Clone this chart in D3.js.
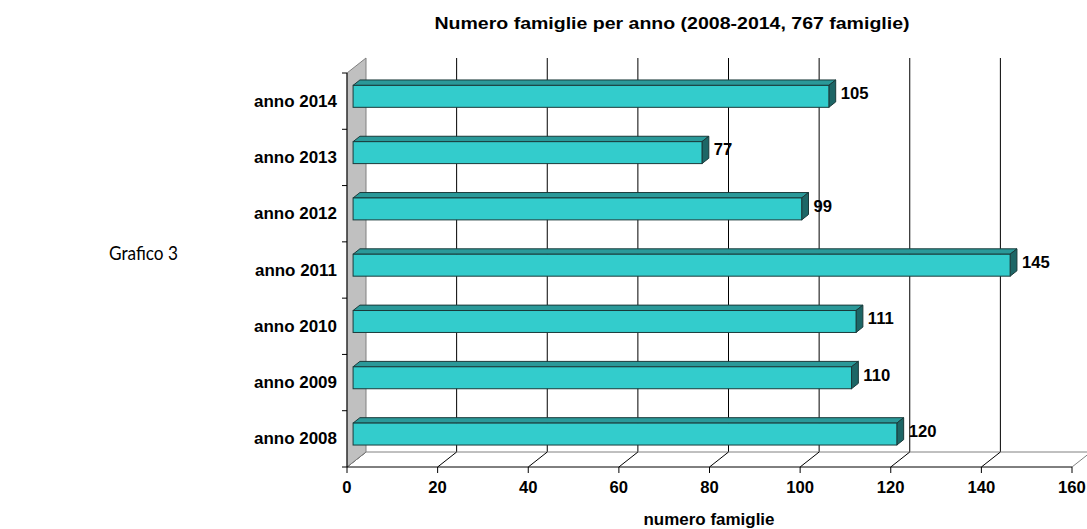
<!DOCTYPE html>
<html><head><meta charset="utf-8">
<script src="https://cdn.jsdelivr.net/npm/d3@7"></script>
<style>body{margin:0;background:#fff}svg{display:block}</style>
</head><body>
<svg id="c" width="1087" height="529"></svg>
<script>
const categories = ["anno 2014","anno 2013","anno 2012","anno 2011","anno 2010","anno 2009","anno 2008"];
const values = [105, 77, 99, 145, 111, 110, 120];
const tickValues = [0, 20, 40, 60, 80, 100, 120, 140, 160];
const titleText = "Numero famiglie per anno (2008-2014, 767 famiglie)";
const axisTitle = "numero famiglie";
const sideNote = "Grafico 3";

const svg = d3.select("#c");
const F = "'Liberation Sans', Arial, sans-serif";
const x = d3.scaleLinear().domain([0, 160]).range([347, 1072]);
const y = d3.scaleBand().domain(categories).range([73, 467]).padding(0);
const DX = 19, DY = -15;      // depth offset of the back wall
const z1 = 0.32, z2 = 0.68;   // bar front/back depth
const barFrac = 0.39;
const yTop = y.range()[0], yBot = y.range()[1];

// back wall gridlines
svg.append("g").selectAll("line").data(tickValues.filter(v => v > 0)).join("line")
  .attr("x1", d => x(d) + DX).attr("x2", d => x(d) + DX)
  .attr("y1", yTop + DY).attr("y2", yBot + DY)
  .attr("stroke", "#000").attr("stroke-width", 1);
// floor
svg.append("line").attr("x1", x(0) + DX).attr("x2", x(160) + DX)
  .attr("y1", yBot + DY).attr("y2", yBot + DY).attr("stroke", "#808080");
svg.append("g").selectAll("line").data(tickValues).join("line")
  .attr("x1", d => x(d)).attr("y1", yBot)
  .attr("x2", d => x(d) + DX).attr("y2", yBot + DY)
  .attr("stroke", d => d === 160 ? "#808080" : "#000");
// left wall
svg.append("polygon")
  .attr("points", [[x(0), yTop], [x(0) + DX, yTop + DY], [x(0) + DX, yBot + DY], [x(0), yBot]].join(" "))
  .attr("fill", "#c0c0c0").attr("stroke", "#808080");

// bars
const bh = y.bandwidth() * barFrac;
const bars = svg.append("g").selectAll("g").data(categories.map((c, i) => ({c, v: values[i]}))).join("g");
bars.each(function(d) {
  const g = d3.select(this);
  const yc = y(d.c) + y.bandwidth() / 2 + DY * z1;
  const x0 = x(0) + DX * z1, xv = x(d.v) + DX * z1;
  const ddx = DX * (z2 - z1), ddy = DY * (z2 - z1);
  const yt = yc - bh / 2, yb = yc + bh / 2;
  g.append("polygon").attr("points", [[x0, yt], [x0 + ddx, yt + ddy], [xv + ddx, yt + ddy], [xv, yt]].join(" "))
    .attr("fill", "#2a9999").attr("stroke", "#1a3a3a").attr("stroke-width", 1);
  g.append("polygon").attr("points", [[xv, yt], [xv + ddx, yt + ddy], [xv + ddx, yb + ddy], [xv, yb]].join(" "))
    .attr("fill", "#1d6666").attr("stroke", "#1a3a3a").attr("stroke-width", 1);
  g.append("rect").attr("x", x0).attr("y", yt).attr("width", xv - x0).attr("height", bh)
    .attr("fill", "#33cccc").attr("stroke", "#1a3a3a").attr("stroke-width", 1);
  g.append("text").attr("x", x(d.v) + DX * z2 + 5).attr("y", y(d.c) + y.bandwidth() / 2 + DY * 0.5 + 5.5)
    .attr("font-family", F).attr("font-weight", "bold").attr("font-size", 16).text(d.v);
});

// axes
svg.append("line").attr("x1", x(0)).attr("x2", x(160)).attr("y1", yBot).attr("y2", yBot).attr("stroke", "#000");
svg.append("line").attr("x1", x(0)).attr("x2", x(0)).attr("y1", yTop).attr("y2", yBot).attr("stroke", "#000");
svg.append("g").selectAll("line").data(tickValues).join("line")
  .attr("x1", d => x(d)).attr("x2", d => x(d)).attr("y1", yBot).attr("y2", yBot + 6).attr("stroke", "#000");
const bounds = categories.map(c => y(c)).concat([yBot]);
svg.append("g").selectAll("line").data(bounds).join("line")
  .attr("x1", x(0) - 5).attr("x2", x(0)).attr("y1", d => d).attr("y2", d => d).attr("stroke", "#000");

const stretch = (sel, k) => sel.each(function() {
  const w = this.getComputedTextLength();
  d3.select(this).attr("textLength", w * k).attr("lengthAdjust", "spacingAndGlyphs");
});

svg.append("g").selectAll("text").data(tickValues).join("text")
  .attr("x", d => x(d)).attr("y", yBot + 26).attr("text-anchor", "middle")
  .attr("font-family", F).attr("font-weight", "bold").attr("font-size", 16).text(d => d)
  .call(stretch, 1.04);
svg.append("g").selectAll("text").data(categories).join("text")
  .attr("x", 337).attr("y", d => y(d) + y.bandwidth() / 2 + 5.5).attr("text-anchor", "end")
  .attr("font-family", F).attr("font-weight", "bold").attr("font-size", 16).text(d => d)
  .call(stretch, 1.06);
svg.append("text").attr("x", 672).attr("y", 29).attr("text-anchor", "middle")
  .attr("font-family", F).attr("font-weight", "bold").attr("font-size", 16).text(titleText)
  .attr("textLength", 475).attr("lengthAdjust", "spacingAndGlyphs");
svg.append("text").attr("x", 709).attr("y", 525).attr("text-anchor", "middle")
  .attr("font-family", F).attr("font-weight", "bold").attr("font-size", 16).text(axisTitle)
  .attr("textLength", 131).attr("lengthAdjust", "spacingAndGlyphs");
svg.append("text").attr("x", 109).attr("y", 260)
  .attr("font-family", "Lato, 'Noto Sans', sans-serif").attr("font-size", 20).text(sideNote)
  .attr("textLength", 69).attr("lengthAdjust", "spacingAndGlyphs");
bars.selectAll("text").call(stretch, 1.04);
</script>
</body></html>
